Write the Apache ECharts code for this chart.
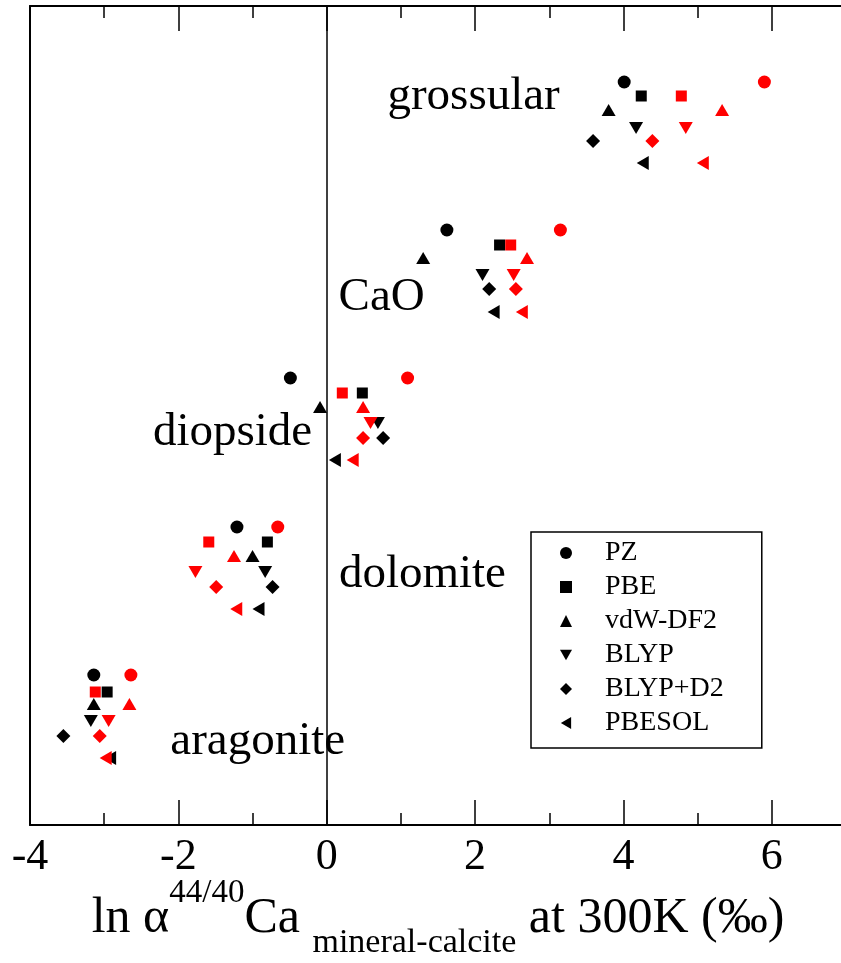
<!DOCTYPE html>
<html>
<head>
<meta charset="utf-8">
<script src="https://cdn.jsdelivr.net/npm/echarts@6/dist/echarts.min.js"></script>
<style>html,body{margin:0;padding:0;background:#fff;}#c{width:841px;height:963px;}</style>
</head>
<body>
<div id="c"></div>
<script>
// ---- data ----
const minerals = ['grossular', 'CaO', 'diopside', 'dolomite', 'aragonite'];
const methods = ['PZ', 'PBE', 'vdW-DF2', 'BLYP', 'BLYP+D2', 'PBESOL'];
// x values (ln alpha, permil) per method, in mineral order
const blackPZ     = [4.01, 1.62, -0.49, -1.21, -3.14];
const blackPBE    = [4.24, 2.33, 0.48, -0.80, -2.96];
const blackVDW    = [3.80, 1.30, -0.09, -1.00, -3.14];
const blackBLYP   = [4.17, 2.10, 0.69, -0.83, -3.18];
const blackD2     = [3.59, 2.19, 0.76, -0.73, -3.55];
const blackPBESOL = [4.26, 2.25, 0.11, -0.92, -2.92];
const redPZ     = [5.90, 3.15, 1.09, -0.66, -2.64];
const redPBE    = [4.78, 2.48, 0.21, -1.59, -3.12];
const redVDW    = [5.33, 2.70, 0.49, -1.25, -2.66];
const redBLYP   = [4.84, 2.52, 0.59, -1.77, -2.94];
const redD2     = [4.39, 2.55, 0.49, -1.49, -3.06];
const redPBESOL = [5.07, 2.63, 0.35, -1.22, -2.98];
// vertical offsets (unitless, downward) per method, in mineral order
const rowPZ     = [76, 224, 372, 521, 669];
const rowPBE    = [90, 239, 387, 536, 686];
const rowVDW    = [104, 252, 401, 550, 698];
const rowBLYP   = [122, 269, 417, 566, 715];
const rowD2     = [135, 283, 432, 581, 730];
const rowPBESOL = [157, 306, 454, 603, 752];
// mineral label anchors
const labelX = [1.98, 0.74, -1.27, 1.29, -0.93];
const labelY = [91, 292, 427, 569, 736];
const xTicks = [-4, -2, 0, 2, 4, 6];

// ---- style ----
const blackSets = [blackPZ, blackPBE, blackVDW, blackBLYP, blackD2, blackPBESOL];
const redSets = [redPZ, redPBE, redVDW, redBLYP, redD2, redPBESOL];
const rows = [rowPZ, rowPBE, rowVDW, rowBLYP, rowD2, rowPBESOL];
const symStyle = [
  {symbol: 'circle', size: 13, rot: 0, icon: 'circle'},
  {symbol: 'rect', size: 11, rot: 0, icon: 'rect'},
  {symbol: 'triangle', size: [14, 12], rot: 0, icon: 'triangle'},
  {symbol: 'triangle', size: [14, 12], rot: 180, icon: 'path://M0,0L14,0L7,12Z'},
  {symbol: 'diamond', size: 14, rot: 0, icon: 'diamond'},
  {symbol: 'triangle', size: [14, 12], rot: 90, icon: 'path://M12,0L12,14L0,7Z'}
];
const FONT = '"Liberation Serif", "Times New Roman", serif';

function mk(name, xs, ys, color, k) {
  return {
    type: 'scatter', name: name,
    data: xs.map((x, i) => [x, ys[i]]),
    symbol: symStyle[k].symbol, symbolSize: symStyle[k].size, symbolRotate: symStyle[k].rot,
    itemStyle: {color: color, opacity: 1}, silent: true, z: color === '#ff0000' ? 4 : 3
  };
}
const series = [];
methods.forEach((m, k) => series.push(mk(m, blackSets[k], rows[k], '#000000', k)));
methods.forEach((m, k) => series.push(mk(m + ' (red)', redSets[k], rows[k], '#ff0000', k)));
series[0].markLine = {
  silent: true, symbol: ['none', 'none'], label: {show: false},
  lineStyle: {color: '#000', width: 1.5, type: 'solid'},
  emphasis: {disabled: true},
  data: [{xAxis: 0}], animation: false
};
series.push({
  type: 'scatter', name: 'labels', symbolSize: 0, silent: true,
  itemStyle: {opacity: 1, color: '#000'},
  data: minerals.map((n, i) => ({value: [labelX[i], labelY[i]], name: n})),
  label: {show: true, position: 'inside', formatter: p => p.name, color: '#000', opacity: 1,
          textBorderWidth: 0, fontFamily: FONT, fontSize: 47}
});

const tickCommon = {
  min: -4, max: 7, interval: 2, type: 'value',
  axisLine: {show: true, onZero: false, lineStyle: {color: '#000', width: 2}},
  axisTick: {show: true, inside: true, length: 25, lineStyle: {color: '#000', width: 1.5}},
  minorTick: {show: true, splitNumber: 2, length: 12, lineStyle: {color: '#000', width: 1.5}},
  splitLine: {show: false}
};

const option = {
  animation: false,
  backgroundColor: '#fff',
  grid: {left: 30, right: -5, top: 6, bottom: 138, containLabel: false, outerBoundsMode: 'none'},
  xAxis: [
    Object.assign({}, tickCommon, {
      position: 'bottom',
      axisLabel: {show: true, margin: 10, fontFamily: FONT, fontSize: 44, color: '#000', lineHeight: 44,
                  formatter: v => (xTicks.indexOf(v) >= 0 ? String(v) : '')},
      name: '{m|ln α}{sup|44/40}{m|Ca }{sub|mineral-calcite}{m| at 300K (‰)}',
      nameLocation: 'middle', nameGap: 52, nameMoveOverlap: false,
      nameTextStyle: {
        fontFamily: FONT, color: '#000',
        rich: {
          m: {fontFamily: FONT, fontSize: 50, lineHeight: 83, verticalAlign: 'middle', color: '#000'},
          sup: {fontFamily: FONT, fontSize: 33, lineHeight: 33, verticalAlign: 'top', color: '#000'},
          sub: {fontFamily: FONT, fontSize: 34, lineHeight: 34, verticalAlign: 'bottom', color: '#000'}
        }
      }
    }),
    Object.assign({}, tickCommon, {position: 'top', axisLabel: {show: false}})
  ],
  yAxis: {
    type: 'value', min: 0, max: 819, inverse: true,
    axisLine: {show: true, onZero: false, lineStyle: {color: '#000', width: 2}},
    axisTick: {show: false}, axisLabel: {show: false}, splitLine: {show: false}
  },
  legend: {
    data: methods.map((m, k) => ({name: m, icon: symStyle[k].icon})),
    orient: 'vertical', left: 531, top: 532,
    itemWidth: 12, itemHeight: 12, itemGap: 6,
    padding: [7, 38, 11, 29],
    borderColor: '#000', borderWidth: 1.5, backgroundColor: '#fff',
    selectedMode: false,
    textStyle: {fontFamily: FONT, fontSize: 28, lineHeight: 28, color: '#000', padding: [0, 0, 0, 28]}
  },
  series: series
};
const chart = echarts.init(document.getElementById('c'), null, {renderer: 'canvas'});
chart.setOption(option);
</script>
</body>
</html>
